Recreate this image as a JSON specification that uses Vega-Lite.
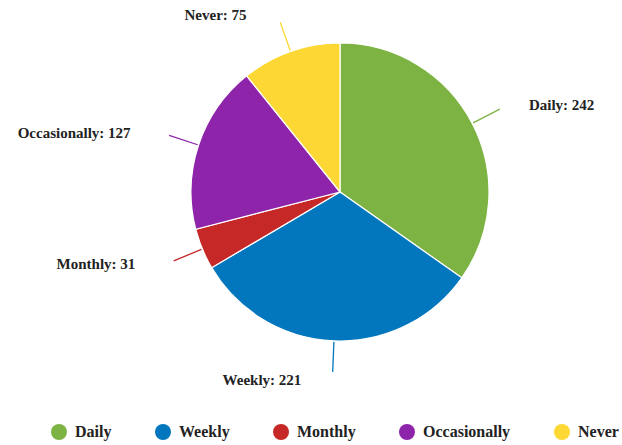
{
  "$schema": "https://vega.github.io/schema/vega-lite/v6.json",
  "width": 400,
  "height": 340,
  "autosize": {"type": "none"},
  "padding": {"left": 140, "top": 22, "right": 82, "bottom": 83},
  "background": "white",
  "data": {
    "values": [
      {"category": "Daily", "count": 242, "order": 1},
      {"category": "Weekly", "count": 221, "order": 2},
      {"category": "Monthly", "count": 31, "order": 3},
      {"category": "Occasionally", "count": 127, "order": 4},
      {"category": "Never", "count": 75, "order": 5}
    ]
  },
  "transform": [
    {"calculate": "datum.category + ': ' + datum.count", "as": "label"}
  ],
  "encoding": {
    "theta": {"field": "count", "type": "quantitative", "stack": true},
    "order": {"field": "order", "type": "quantitative"},
    "color": {
      "field": "category",
      "type": "nominal",
      "sort": ["Daily", "Weekly", "Monthly", "Occasionally", "Never"],
      "scale": {
        "domain": ["Daily", "Weekly", "Monthly", "Occasionally", "Never"],
        "range": ["#7cb342", "#0277bd", "#c62828", "#8e24aa", "#fdd835"]
      },
      "legend": {
        "title": null,
        "orient": "none",
        "legendX": -89,
        "legendY": 402,
        "direction": "horizontal",
        "symbolType": "circle",
        "symbolSize": 256,
        "symbolStrokeWidth": 0,
        "labelFont": "Liberation Serif",
        "labelFontWeight": "bold",
        "labelFontSize": 16,
        "labelColor": "#222222",
        "labelOffset": 8,
        "columnPadding": 43
      }
    }
  },
  "layer": [
    {"mark": {"type": "arc", "radius": 149, "stroke": "#ffffff", "strokeWidth": 1.2}},
    {"mark": {"type": "arc", "radius": 150, "radius2": 180, "padAngle": 3.14, "filled": false, "strokeWidth": 1.3}},
    {
      "mark": {"type": "text", "radius": 188, "align": "right", "baseline": "middle", "dx": -31, "font": "Liberation Serif", "fontWeight": "bold", "fontSize": 15, "color": "#222222"},
      "encoding": {
        "text": {"condition": {"test": "datum.category != 'Daily'", "field": "label"}, "value": ""},
        "color": {"value": "#222222"}
      }
    },
    {
      "mark": {"type": "text", "radius": 188, "align": "left", "baseline": "middle", "dx": 22, "font": "Liberation Serif", "fontWeight": "bold", "fontSize": 15, "color": "#222222"},
      "encoding": {
        "text": {"condition": {"test": "datum.category == 'Daily'", "field": "label"}, "value": ""},
        "color": {"value": "#222222"}
      }
    }
  ],
  "config": {"view": {"stroke": null}}
}
